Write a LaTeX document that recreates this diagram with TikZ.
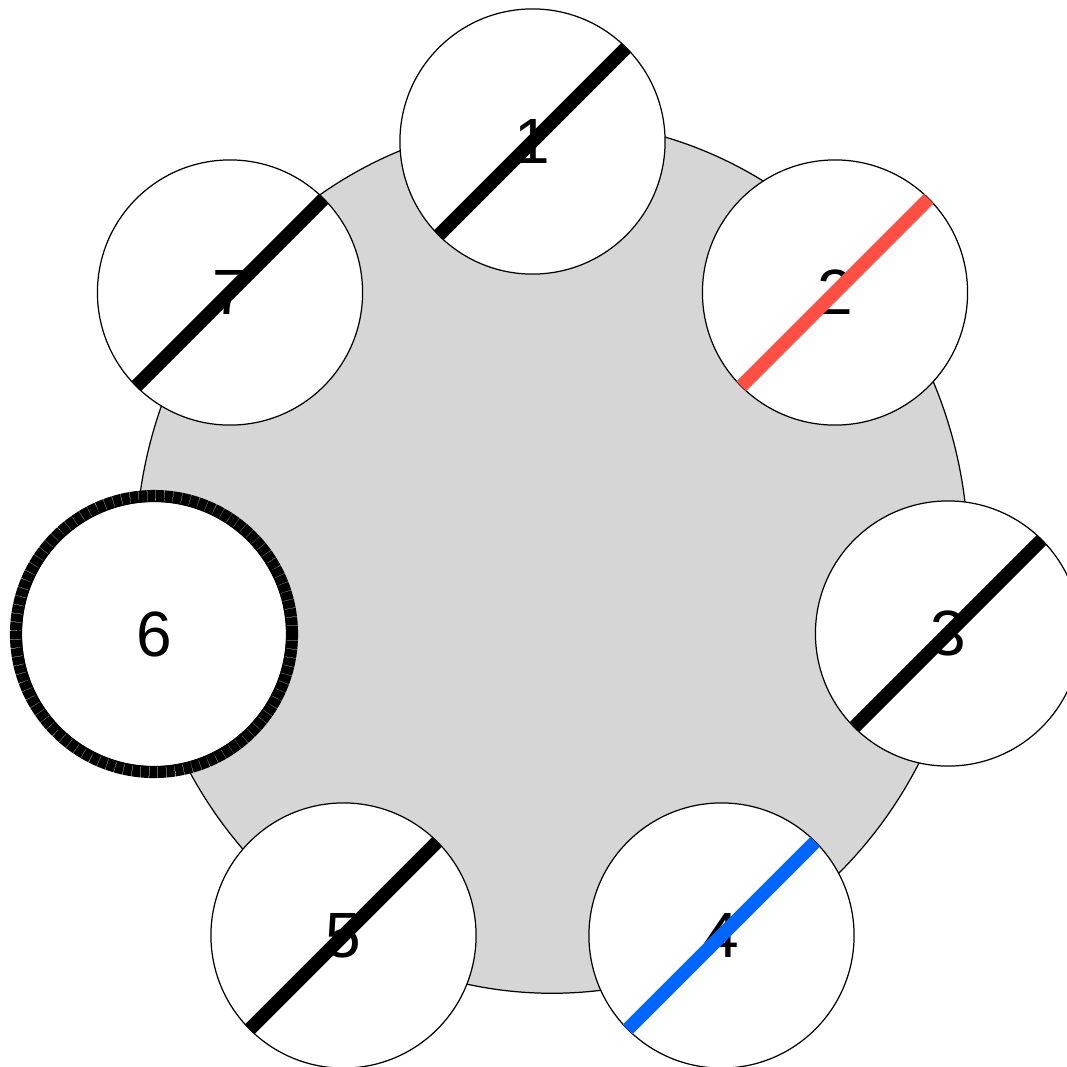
\documentclass[tikz,border=0pt]{standalone}
\usepackage{fontspec}
\setmainfont{Liberation Sans}
\usetikzlibrary{shapes.geometric}
\definecolor{tablegray}{RGB}{214, 214, 214}
\definecolor{seatred}{RGB}{255, 80, 70}
\definecolor{seatblue}{RGB}{0, 102, 255}

\begin{document}
\begin{tikzpicture}[x=0.01cm, y=-0.01cm,
    seat/.style={draw=black, line width=0.35pt, fill=white, circle, minimum size=2.65cm, inner sep=0pt, outer sep=0pt, font=\fontsize{18.2}{20}\selectfont},
    slash/.style={line width=3.9pt, line cap=butt}]
                    \clip (0,0) rectangle (1067,1066);
                    \node[draw=black, line width=0.35pt, fill=tablegray, ellipse, minimum width=8.32cm, minimum height=8.72cm, inner sep=0pt] (table) at (552,557) {};
                    \node[seat] (s1) at (532.5,141.5) {1};
                    \node[seat] (s2) at (835,292.5) {2};
                    \node[seat] (s3) at (948,633.5) {3};
                    \node[seat] (s4) at (721.5,935.5) {4};
                    \node[seat] (s5) at (343.5,935.5) {5};
                    \node[seat] (s6) at (154,634) {6};
                    \node[seat] (s7) at (230,292.5) {7};
                    \draw[slash, black] (s1.225) -- (s1.45);
                    \draw[slash, seatred] (s2.225) -- (s2.45);
                    \draw[slash, black] (s3.225) -- (s3.45);
                    \draw[slash, seatblue] (s4.225) -- (s4.45);
                    \draw[slash, black] (s5.225) -- (s5.45);
                    \draw[slash, black] (s7.225) -- (s7.45);
                    \draw[black, line width=3.4pt, dash pattern=on 2.3pt off 0.15pt] (s6.center) circle[radius=1.38cm];
                \end{tikzpicture}
\end{document}
